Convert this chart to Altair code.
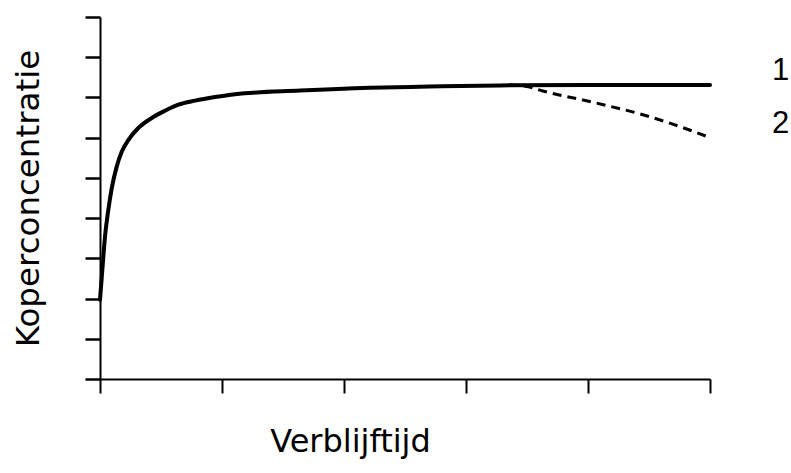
import altair as alt
import pandas as pd

# Copper concentration versus residence time (arbitrary units)
t1 = [0.0, 0.019, 0.041, 0.068, 0.096, 0.137, 0.178, 0.232, 0.314, 0.424, 0.533,
      0.642, 0.779, 0.943, 1.107, 1.64, 2.21, 2.70, 3.28, 4.0, 5.0]
c1 = [1.97, 2.71, 3.54, 4.20, 4.74, 5.28, 5.65, 5.94, 6.24, 6.49, 6.67,
      6.82, 6.92, 7.01, 7.08, 7.17, 7.24, 7.27, 7.30, 7.31, 7.31]

t2 = [3.35, 3.5, 3.63, 4.04, 4.45, 4.86, 5.0]
c2 = [7.31, 7.27, 7.16, 6.88, 6.57, 6.16, 6.0]

curve_labels = ["1", "2"]
label_t = [5.0, 5.0]
label_c = [7.31, 6.0]

x_ticks = [0, 1, 2, 3, 4, 5]
y_ticks = [0, 1, 2, 3, 4, 5, 6, 7, 8, 9]

df1 = pd.DataFrame({"t": t1, "c": c1})
df2 = pd.DataFrame({"t": t2, "c": c2})
dfl = pd.DataFrame({"t": label_t, "c": label_c, "lab": curve_labels})

TITLE_FONT = "DejaVu Sans"

x_enc = alt.X(
    "t:Q",
    scale=alt.Scale(domain=[0, 5], nice=False, zero=False),
    axis=alt.Axis(
        values=x_ticks, labels=False, grid=False,
        tickSize=14, tickWidth=2, tickColor="black",
        domainColor="black", domainWidth=2,
        title="Verblijftijd", titleFont=TITLE_FONT, titleFontSize=32,
        titleFontWeight="normal", titleColor="black",
        titleX=250, titleY=72, titleAlign="center", titleBaseline="alphabetic",
    ),
)
y_enc = alt.Y(
    "c:Q",
    scale=alt.Scale(domain=[0, 9], nice=False, zero=False),
    axis=alt.Axis(
        values=y_ticks, labels=False, grid=False,
        tickSize=15, tickWidth=2.5, tickColor="black",
        domainColor="black", domainWidth=2,
        title="Koperconcentratie", titleFont=TITLE_FONT, titleFontSize=32.5,
        titleFontWeight="normal", titleColor="black",
        titleX=-72, titleY=181, titleAngle=-90,
        titleAlign="center", titleBaseline="middle",
    ),
)

line1 = alt.Chart(df1).mark_line(
    color="black", strokeWidth=4, interpolate="monotone", strokeCap="round"
).encode(x=x_enc, y=y_enc, order="t:Q")

line2 = alt.Chart(df2).mark_line(
    color="black", strokeWidth=3, interpolate="monotone", strokeDash=[9, 6]
).encode(x="t:Q", y="c:Q", order="t:Q")

labels = alt.Chart(dfl).mark_text(
    align="left", baseline="middle", dx=62, dy=-14,
    font="Liberation Sans", fontSize=31, color="black"
).encode(x="t:Q", y="c:Q", text="lab:N")

chart = (
    alt.layer(line1, line2, labels)
    .properties(
        width=610, height=362,
        autosize="none",
        padding={"left": 100, "top": 17, "right": 81, "bottom": 94},
        background="white",
    )
    .configure_view(stroke=None)
)

chart.save("out.html", embed_options={"renderer": "svg", "actions": False})
